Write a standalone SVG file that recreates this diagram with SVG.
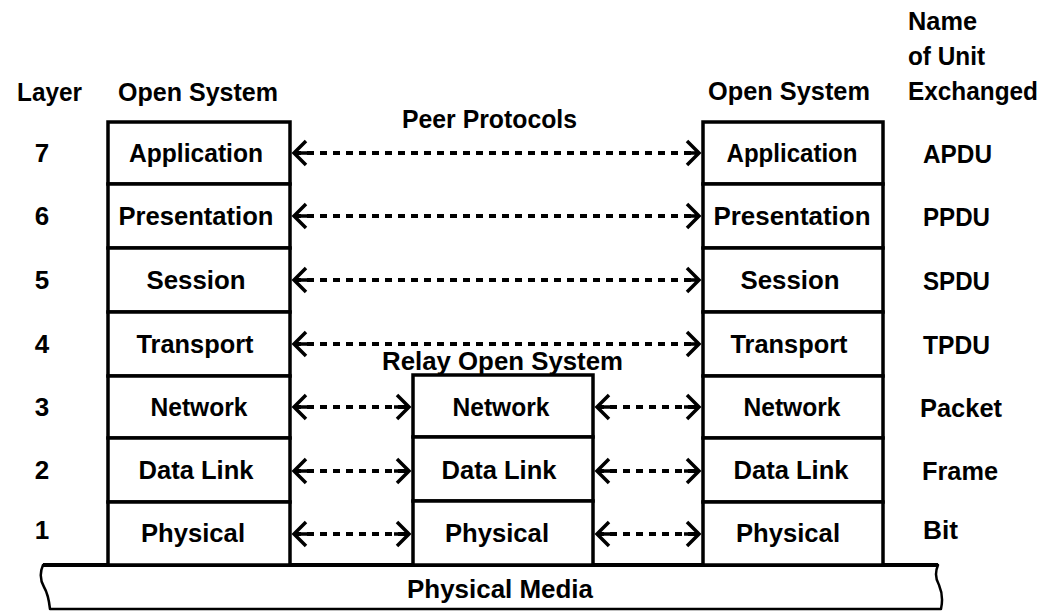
<svg xmlns="http://www.w3.org/2000/svg" width="1047" height="612" viewBox="0 0 1047 612">
  <style>
    text { font-family: "Liberation Sans", Arial, sans-serif; font-weight: bold; font-size: 26px; fill: #000; }
    .c { text-anchor: middle; }
    .box { fill: #fff; stroke: #000; stroke-width: 3.5; }
    .link { fill: none; stroke: #000; stroke-width: 4; stroke-dasharray: 7 6; marker-start: url(#head); marker-end: url(#head); }
    .media { fill: #fff; stroke: #000; stroke-width: 2.5; stroke-linejoin: round; }
  </style>
  <defs>
    <!-- open chevron arrowhead with a short solid stem -->
    <marker id="head" viewBox="-18 -15 24 30" refX="0" refY="0" markerWidth="24" markerHeight="30" markerUnits="userSpaceOnUse" orient="auto-start-reverse">
      <path d="M-12,-12 L0,0 L-12,12 M0,0 L-15,0" fill="none" stroke="#000" stroke-width="3.5"/>
    </marker>
  </defs>

  <!-- column headings -->
  <g id="headings">
    <text x="17" y="101" textLength="65" lengthAdjust="spacingAndGlyphs">Layer</text>
    <text x="118" y="101" textLength="160" lengthAdjust="spacingAndGlyphs">Open System</text>
    <text x="708" y="100" textLength="162" lengthAdjust="spacingAndGlyphs">Open System</text>
    <text x="908" y="30" textLength="69" lengthAdjust="spacingAndGlyphs">Name</text>
    <text x="908" y="65" textLength="77" lengthAdjust="spacingAndGlyphs">of Unit</text>
    <text x="908" y="100" textLength="130" lengthAdjust="spacingAndGlyphs">Exchanged</text>
    <text x="402" y="128" textLength="175" lengthAdjust="spacingAndGlyphs">Peer Protocols</text>
  </g>

  <!-- layer numbers -->
  <g id="layer-numbers">
    <text class="c" x="42" y="162">7</text>
    <text class="c" x="42" y="225">6</text>
    <text class="c" x="42" y="289">5</text>
    <text class="c" x="42" y="353">4</text>
    <text class="c" x="42" y="416">3</text>
    <text class="c" x="42" y="479">2</text>
    <text class="c" x="42" y="539">1</text>
  </g>

  <!-- units exchanged -->
  <g id="units">
    <text x="923" y="163" textLength="69" lengthAdjust="spacingAndGlyphs">APDU</text>
    <text x="923" y="226" textLength="67" lengthAdjust="spacingAndGlyphs">PPDU</text>
    <text x="923" y="290" textLength="67" lengthAdjust="spacingAndGlyphs">SPDU</text>
    <text x="923" y="354" textLength="67" lengthAdjust="spacingAndGlyphs">TPDU</text>
    <text x="920" y="417" textLength="82" lengthAdjust="spacingAndGlyphs">Packet</text>
    <text x="922" y="480" textLength="76" lengthAdjust="spacingAndGlyphs">Frame</text>
    <text x="923" y="539" textLength="35" lengthAdjust="spacingAndGlyphs">Bit</text>
  </g>

  <!-- physical media band -->
  <g id="physical-media">
    <path class="media" d="M43,565 L938,565 C935,572 935,578 939,585 C942,592 943,600 941,609 L50,609 C49,600 47,592 44,587 C40,580 40,572 43,565 Z"/>
    <line x1="43" y1="565" x2="938" y2="565" stroke="#000" stroke-width="4"/>
    <text class="c" x="500" y="598" textLength="186" lengthAdjust="spacingAndGlyphs">Physical Media</text>
  </g>

  <!-- left open system -->
  <g id="left-application"><rect class="box" x="108" y="122" width="182" height="62"/><text class="c" x="196" y="162" textLength="134" lengthAdjust="spacingAndGlyphs">Application</text></g>
  <g id="left-presentation"><rect class="box" x="108" y="184" width="182" height="64"/><text class="c" x="196" y="225" textLength="155" lengthAdjust="spacingAndGlyphs">Presentation</text></g>
  <g id="left-session"><rect class="box" x="108" y="248" width="182" height="64"/><text class="c" x="196" y="289" textLength="99" lengthAdjust="spacingAndGlyphs">Session</text></g>
  <g id="left-transport"><rect class="box" x="108" y="312" width="182" height="64"/><text class="c" x="195" y="353" textLength="117" lengthAdjust="spacingAndGlyphs">Transport</text></g>
  <g id="left-network"><rect class="box" x="108" y="376" width="182" height="62"/><text class="c" x="199" y="416" textLength="97" lengthAdjust="spacingAndGlyphs">Network</text></g>
  <g id="left-datalink"><rect class="box" x="108" y="438" width="182" height="64"/><text class="c" x="196" y="479" textLength="115" lengthAdjust="spacingAndGlyphs">Data Link</text></g>
  <g id="left-physical"><rect class="box" x="108" y="502" width="182" height="63"/><text class="c" x="193" y="542" textLength="104" lengthAdjust="spacingAndGlyphs">Physical</text></g>

  <!-- relay open system -->
  <g id="relay-label"><text x="382" y="370" textLength="241" lengthAdjust="spacingAndGlyphs">Relay Open System</text></g>
  <g id="relay-network"><rect class="box" x="413" y="375" width="180" height="62"/><text class="c" x="501" y="416" textLength="97" lengthAdjust="spacingAndGlyphs">Network</text></g>
  <g id="relay-datalink"><rect class="box" x="413" y="437" width="180" height="64"/><text class="c" x="499" y="479" textLength="115" lengthAdjust="spacingAndGlyphs">Data Link</text></g>
  <g id="relay-physical"><rect class="box" x="413" y="501" width="180" height="64"/><text class="c" x="497" y="542" textLength="104" lengthAdjust="spacingAndGlyphs">Physical</text></g>

  <!-- right open system -->
  <g id="right-application"><rect class="box" x="703" y="122" width="180" height="62"/><text class="c" x="792" y="162" textLength="131" lengthAdjust="spacingAndGlyphs">Application</text></g>
  <g id="right-presentation"><rect class="box" x="703" y="184" width="180" height="64"/><text class="c" x="792" y="225" textLength="157" lengthAdjust="spacingAndGlyphs">Presentation</text></g>
  <g id="right-session"><rect class="box" x="703" y="248" width="180" height="64"/><text class="c" x="790" y="289" textLength="99" lengthAdjust="spacingAndGlyphs">Session</text></g>
  <g id="right-transport"><rect class="box" x="703" y="312" width="180" height="64"/><text class="c" x="789" y="353" textLength="117" lengthAdjust="spacingAndGlyphs">Transport</text></g>
  <g id="right-network"><rect class="box" x="703" y="376" width="180" height="62"/><text class="c" x="792" y="416" textLength="97" lengthAdjust="spacingAndGlyphs">Network</text></g>
  <g id="right-datalink"><rect class="box" x="703" y="438" width="180" height="64"/><text class="c" x="791" y="479" textLength="115" lengthAdjust="spacingAndGlyphs">Data Link</text></g>
  <g id="right-physical"><rect class="box" x="703" y="502" width="180" height="63"/><text class="c" x="788" y="542" textLength="104" lengthAdjust="spacingAndGlyphs">Physical</text></g>

  <!-- peer protocol connectors -->
  <g id="connectors">
    <line class="link" x1="294" y1="153" x2="699" y2="153"/>
    <line class="link" x1="294" y1="216" x2="699" y2="216"/>
    <line class="link" x1="294" y1="280" x2="699" y2="280"/>
    <line class="link" x1="294" y1="344" x2="699" y2="344"/>
    <line class="link" x1="294" y1="407" x2="409" y2="407"/>
    <line class="link" x1="597" y1="407" x2="699" y2="407"/>
    <line class="link" x1="294" y1="471" x2="409" y2="471"/>
    <line class="link" x1="597" y1="471" x2="699" y2="471"/>
    <line class="link" x1="294" y1="534" x2="409" y2="534"/>
    <line class="link" x1="597" y1="534" x2="699" y2="534"/>
  </g>
</svg>
